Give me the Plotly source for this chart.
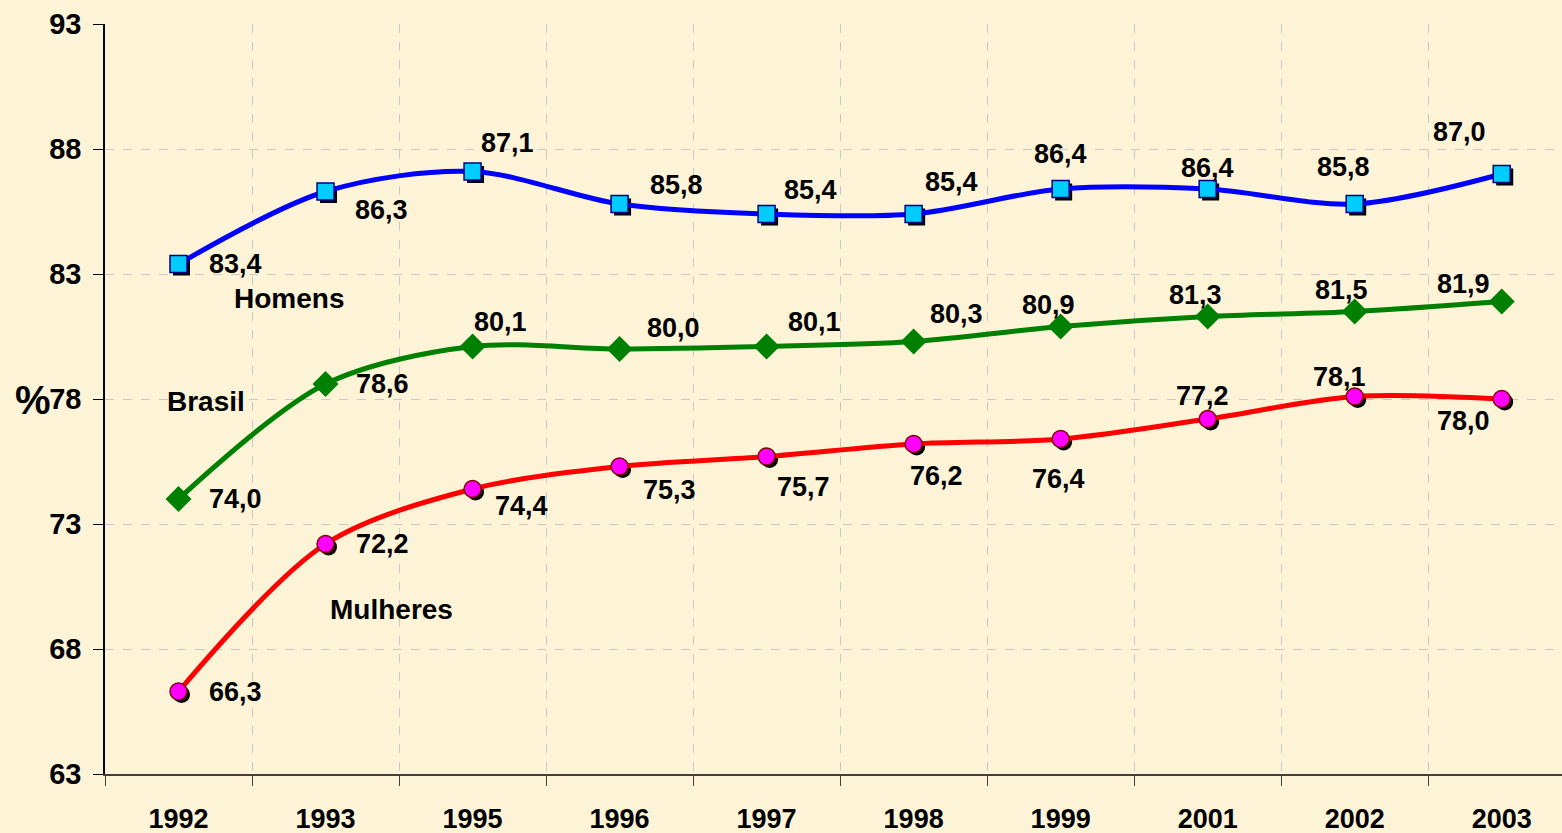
import plotly.graph_objects as go

years = ["1992", "1993", "1995", "1996", "1997", "1998", "1999", "2001", "2002", "2003"]
homens = [83.4, 86.3, 87.1, 85.8, 85.4, 85.4, 86.4, 86.4, 85.8, 87.0]
brasil = [74.0, 78.6, 80.1, 80.0, 80.1, 80.3, 80.9, 81.3, 81.5, 81.9]
mulheres = [66.3, 72.2, 74.4, 75.3, 75.7, 76.2, 76.4, 77.2, 78.1, 78.0]
y_ticks = [63, 68, 73, 78, 83, 88, 93]

# label offsets (pixels) relative to each marker
homens_off = [(57, 0), (56, -18), (35, 29), (57, 19), (44, 24), (38, 32), (0, 35), (0, 21), (-11, 37), (-42, 42)]
brasil_off = [(57, 0), (57, 0), (28, 25), (54, 21), (48, 25), (43, 28), (-12, 22), (-12, 22), (-13, 22), (-38, 18)]
mulheres_off = [(57, 0), (57, 0), (49, -17), (50, -23), (37, -30), (23, -32), (-2, -40), (-5, 23), (-15, 20), (-38, -22)]

BG = "#FDF4D8"
FONT = "Liberation Sans, Arial, sans-serif"

XR = [-0.5, 9.41]
YR = [63, 93]
px_per_cat = 1457 / (XR[1] - XR[0])
px_per_unit = 750 / (YR[1] - YR[0])
sx = 3 / px_per_cat
sy = 3 / px_per_unit

fig = go.Figure()

# shadows (on shifted base axes)
fig.add_trace(go.Scatter(x=years, y=homens, mode="markers", xaxis="x", yaxis="y",
                         marker=dict(symbol="square", size=17, color="black"),
                         hoverinfo="skip", showlegend=False))
fig.add_trace(go.Scatter(x=years, y=mulheres, mode="markers", xaxis="x", yaxis="y",
                         marker=dict(symbol="circle", size=17, color="black"),
                         hoverinfo="skip", showlegend=False))

# main series
fig.add_trace(go.Scatter(x=years, y=homens, mode="lines+markers", name="Homens",
                         xaxis="x2", yaxis="y2",
                         line=dict(color="#0000FF", width=5, shape="spline", smoothing=0.9),
                         marker=dict(symbol="square", size=17, color="#00CCFF",
                                     line=dict(color="#000080", width=1.5))))
fig.add_trace(go.Scatter(x=years, y=brasil, mode="lines+markers", name="Brasil",
                         xaxis="x2", yaxis="y2",
                         line=dict(color="#008000", width=5, shape="spline", smoothing=0.9),
                         marker=dict(symbol="diamond", size=20, color="#008000")))
fig.add_trace(go.Scatter(x=years, y=mulheres, mode="lines+markers", name="Mulheres",
                         xaxis="x2", yaxis="y2",
                         line=dict(color="#FF0000", width=5, shape="spline", smoothing=0.9),
                         marker=dict(symbol="circle", size=17, color="#FF00FF",
                                     line=dict(color="#800000", width=1.5))))

annotations = []
for vals, offs in ((homens, homens_off), (brasil, brasil_off), (mulheres, mulheres_off)):
    for i, (v, (dx, dy)) in enumerate(zip(vals, offs)):
        annotations.append(dict(x=i, y=v, xref="x2", yref="y2", text=f"{v:.1f}".replace(".", ","),
                                showarrow=False, xshift=dx, yshift=dy,
                                font=dict(family=FONT, size=27, color="black", weight="bold")))

for name, xx, yy in (("Homens", 0.75, 82.04), ("Brasil", 0.19, 77.92), ("Mulheres", 1.45, 69.6)):
    annotations.append(dict(x=xx, y=yy, xref="x2", yref="y2", text=name, showarrow=False,
                            font=dict(family=FONT, size=28, color="black", weight="bold")))

annotations.append(dict(x=(33 - 105) / 1457, y=(774 - 400) / 750, xref="paper", yref="paper",
                        xanchor="center", yanchor="middle", text="%", showarrow=False,
                        font=dict(family=FONT, size=40, color="black", weight="bold")))

fig.update_layout(
    width=1562, height=833,
    margin=dict(l=105, r=0, t=24, b=59),
    paper_bgcolor=BG, plot_bgcolor=BG,
    showlegend=False,
    annotations=annotations,
    xaxis=dict(type="category", range=[XR[0] - sx, XR[1] - sx], visible=False,
               showgrid=False, fixedrange=True),
    yaxis=dict(range=[YR[0] + sy, YR[1] + sy], visible=False, showgrid=False, fixedrange=True),
    xaxis2=dict(type="category", range=XR, overlaying="x", anchor="y2",
                tickson="boundaries", ticks="outside", ticklen=10, tickcolor="#404040",
                showline=True, linecolor="#404040", linewidth=2,
                showgrid=True, gridcolor="#C8C8C8", griddash="dash", gridwidth=1,
                tickfont=dict(family=FONT, size=27, color="black", weight="bold"),
                ticklabelstandoff=20),
    yaxis2=dict(range=YR, overlaying="y", anchor="x2", tickvals=y_ticks,
                ticks="outside", ticklen=10, tickcolor="black",
                showline=True, linecolor="black", linewidth=1.5,
                showgrid=True, gridcolor="#C8C8C8", griddash="dash", gridwidth=1,
                zeroline=False,
                tickfont=dict(family=FONT, size=29, color="black", weight="bold"),
                ticklabelstandoff=6),
)

fig.write_html("out.html", config={"displayModeBar": False},
               post_script="document.body.style.margin='0';document.body.style.overflow='hidden';")
